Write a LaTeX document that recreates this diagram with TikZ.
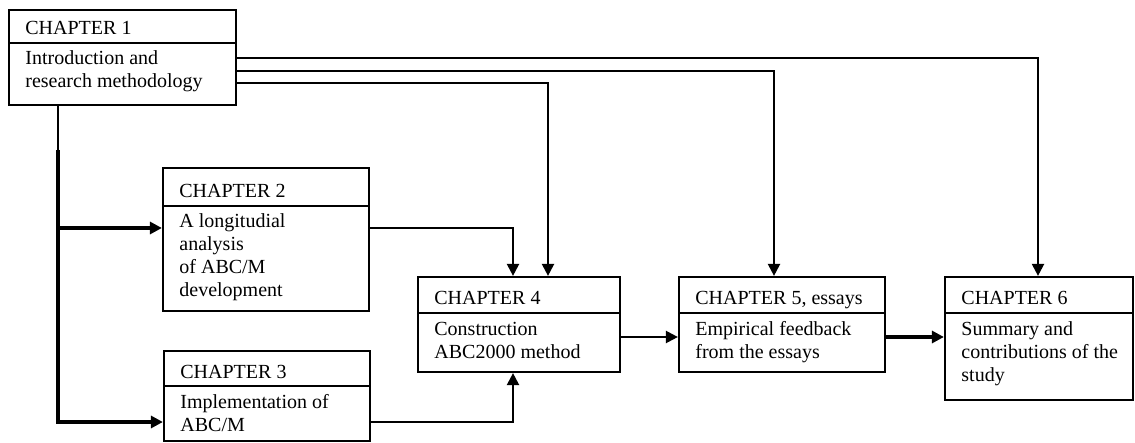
\documentclass[tikz,border=0pt]{standalone}
\usepackage{fontspec}
\setmainfont{Liberation Serif}
\usetikzlibrary{arrows.meta,fit}
\begin{document}
\begin{tikzpicture}[x=0.5pt,y=-0.5pt,
  part/.style={draw, line width=1.1pt, inner sep=0pt},
  txt/.style={anchor=base west, inner sep=0pt, align=left,
    font=\fontsize{10}{11.5}\selectfont},
  link/.style={line width=1.1pt, -{Triangle[length=6pt,width=6pt]}},
  heavylink/.style={link, line width=1.6pt}]
\useasboundingbox (0,0) rectangle (1135,443);

% chapter boxes: a header part and a body part each
\node[part, fit={(9,10) (236,43)}]      (c1h) {};
\node[part, fit={(9,43) (236,105)}]     (c1b) {};
\node[part, fit={(163,168) (369,206)}]  (c2h) {};
\node[part, fit={(163,206) (369,311)}]  (c2b) {};
\node[part, fit={(164,351) (370,386)}]  (c3h) {};
\node[part, fit={(164,386) (370,441)}]  (c3b) {};
\node[part, fit={(418,277) (620,313)}]  (c4h) {};
\node[part, fit={(418,313) (620,372)}]  (c4b) {};
\node[part, fit={(679,277) (885,313)}]  (c5h) {};
\node[part, fit={(679,313) (885,372)}]  (c5b) {};
\node[part, fit={(945,277) (1133,313)}] (c6h) {};
\node[part, fit={(945,313) (1133,400)}] (c6b) {};

% texts (multi-line texts are placed by the baseline of their last line)
\node[txt] (t1h) at (25,35)  {CHAPTER 1};
\node[txt] (t1b) at (25,88)  {Introduction and\\research methodology};
\node[txt] (t2h) at (179,198) {CHAPTER 2};
\node[txt] (t2b) at (179,297) {A longitudial\\analysis\\of ABC/M\\development};
\node[txt] (t3h) at (180,378) {CHAPTER 3};
\node[txt] (t3b) at (180,431) {Implementation of\\ABC/M};
\node[txt] (t4h) at (434,305) {CHAPTER 4};
\node[txt] (t4b) at (434,358) {Construction\\ABC2000 method};
\node[txt] (t5h) at (695,305) {CHAPTER 5, essays};
\node[txt] (t5b) at (695,358) {Empirical feedback\\from the essays};
\node[txt] (t6h) at (961,305) {CHAPTER 6};
\node[txt] (t6b) at (961,381) {Summary and\\contributions of the\\study};

% routing points
\coordinate (j1) at (58,150);
\coordinate (j2) at (58,228);
\coordinate (j3) at (58,422);
\coordinate (k4) at (513,228);
\coordinate (r4) at (548,83);
\coordinate (r5) at (774,71);
\coordinate (r6) at (1038,58);
\coordinate (m)  at (0,337);

% connectors
\draw[line width=1.1pt] (c1b.south -| j1) -- (j1);
\draw[heavylink] (j1) |- (c3b.west |- j3);
\draw[heavylink] (j2) -- (c2b.west |- j2);
\draw[link] (c2b.east |- k4) -| (c4h.north -| k4);
\draw[link] (c3b.east |- j3) -| (c4b.south -| k4);
\draw[link] (c1b.east |- r4) -| (c4h.north -| r4);
\draw[link] (c1b.east |- r5) -| (c5h.north -| r5);
\draw[link] (c1b.east |- r6) -| (c6h.north -| r6);
\draw[link] (c4b.east |- m) -- (c5b.west |- m);
\draw[heavylink] (c5b.east |- m) -- (c6b.west |- m);
\end{tikzpicture}
\end{document}
